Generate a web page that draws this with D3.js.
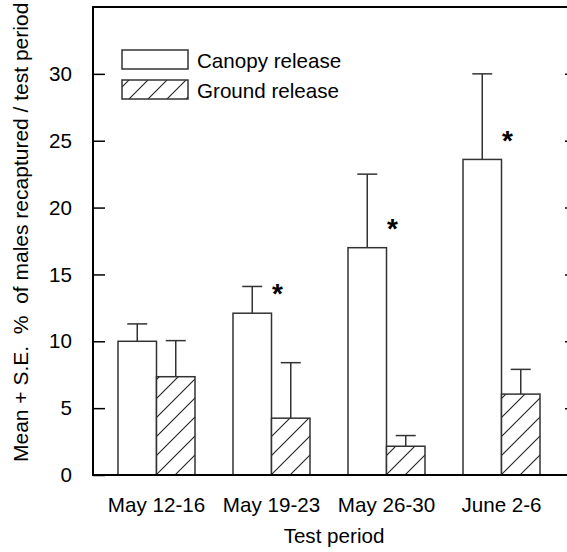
<!DOCTYPE html>
<html><head><meta charset="utf-8">
<script src="https://cdn.jsdelivr.net/npm/d3@7"></script>
<style>
body{margin:0;background:#fff}
text{font-family:"Liberation Sans",Arial,Helvetica,sans-serif;fill:#000}
</style></head>
<body><svg id="c" width="567" height="552"></svg>
<script>
const categories = ["May 12-16","May 19-23","May 26-30","June 2-6"];
const seriesNames = ["Canopy release","Ground release"];
const canopyMean = [10.0, 12.1, 17.0, 23.6];
const canopyUpper = [11.3, 14.1, 22.5, 30.0];
const groundMean = [7.35, 4.25, 2.15, 6.05];
const groundUpper = [10.05, 8.4, 2.95, 7.9];
const significant = [false, true, true, true];
const yTicks = [0, 5, 10, 15, 20, 25, 30];
const yTitle = "Mean + S.E.  %  of males recaptured / test period";
const xTitle = "Test period";

const svg = d3.select("#c");
const L = 93, R = 577, T = 7, B = 475;
const FS = 20.6;

const defs = svg.append("defs");
const pat = defs.append("pattern").attr("id","hatch").attr("patternUnits","userSpaceOnUse")
  .attr("width",19).attr("height",19);
pat.append("rect").attr("width",19).attr("height",19).attr("fill","#fff");
pat.append("path").attr("d","M-1,20 L20,-1 M-10,10 L10,-10 M9,29 L29,9")
  .attr("stroke","#222").attr("stroke-width",1.1).attr("fill","none");

const y = d3.scaleLinear().domain([0,35]).range([B,T]);
const x = d3.scaleBand().domain(categories).range([99,559]).padding(0);
const xs = d3.scaleBand().domain(seriesNames).range([0,77]);
const off = x.bandwidth()/2 - 38.5;

const data = categories.map((c,i)=>({c, i, vals:[
  {s:seriesNames[0], m:canopyMean[i], u:canopyUpper[i]},
  {s:seriesNames[1], m:groundMean[i], u:groundUpper[i]}
]}));

const g = svg.selectAll("g.grp").data(data).join("g").attr("class","grp")
  .attr("transform",d=>`translate(${x(d.c)+off},0)`);

// error bars
g.selectAll("g.err").data(d=>d.vals).join("g").attr("class","err").each(function(d){
  const cx = xs(d.s)+xs.bandwidth()/2;
  const e = d3.select(this);
  e.append("line").attr("x1",cx).attr("x2",cx).attr("y1",y(d.m)).attr("y2",y(d.u))
    .attr("stroke","#333").attr("stroke-width",1.5);
  e.append("line").attr("x1",cx-10).attr("x2",cx+10).attr("y1",y(d.u)).attr("y2",y(d.u))
    .attr("stroke","#333").attr("stroke-width",1.5);
});

g.selectAll("rect").data(d=>d.vals).join("rect")
  .attr("x",d=>xs(d.s)).attr("width",xs.bandwidth())
  .attr("y",d=>y(d.m)).attr("height",d=>B-y(d.m))
  .attr("fill",(d,i)=>i===0?"#fff":"url(#hatch)")
  .attr("stroke","#333").attr("stroke-width",1.5);

// asterisks
svg.selectAll("text.ast").data(data.filter(d=>significant[d.i])).join("text").attr("class","ast")
  .attr("x",d=>x(d.c)+x.bandwidth()/2+6)
  .attr("y",d=>y(canopyMean[d.i]+1.85)+15)
  .attr("text-anchor","middle").attr("font-size",28).attr("font-weight","bold").text("*");

// frame
svg.append("rect").attr("x",L).attr("y",T).attr("width",R-L).attr("height",B-T)
  .attr("fill","none").attr("stroke","#000").attr("stroke-width",2);

const ya = svg.append("g").attr("transform",`translate(${L},0)`)
  .call(d3.axisLeft(y).tickValues(yTicks).tickSizeInner(-12).tickSizeOuter(0).tickPadding(21));
ya.select(".domain").remove();
ya.selectAll("line").attr("stroke","#000").attr("stroke-width",1.5);
ya.selectAll("text").attr("font-size",FS).attr("font-family","Liberation Sans, Arial, sans-serif");

const yr = svg.append("g").attr("transform",`translate(${R},0)`)
  .call(d3.axisRight(y).tickValues(yTicks.slice(1)).tickSizeInner(-12).tickSizeOuter(0).tickFormat(""));
yr.select(".domain").remove();
yr.selectAll("line").attr("stroke","#000").attr("stroke-width",1.5);

const xa = svg.append("g").attr("transform",`translate(0,${B})`)
  .call(d3.axisBottom(x).tickSize(0).tickPadding(22));
xa.select(".domain").remove();
xa.selectAll("text").attr("font-size",FS).attr("font-family","Liberation Sans, Arial, sans-serif");

svg.append("text").attr("x",334).attr("y",543).attr("text-anchor","middle")
  .attr("font-size",FS).text(xTitle);

svg.append("text").attr("transform","translate(28,462) rotate(-90)")
  .attr("font-size",21).style("white-space","pre").text(yTitle);

// legend
const lg = svg.append("g");
seriesNames.forEach((s,i)=>{
  lg.append("rect").attr("x",122).attr("y",50+i*30).attr("width",66).attr("height",19)
    .attr("fill",i===0?"#fff":"url(#hatch)").attr("stroke","#333").attr("stroke-width",1.5);
  lg.append("text").attr("x",197).attr("y",67.5+i*30).attr("font-size",FS).text(s);
});
</script></body></html>
